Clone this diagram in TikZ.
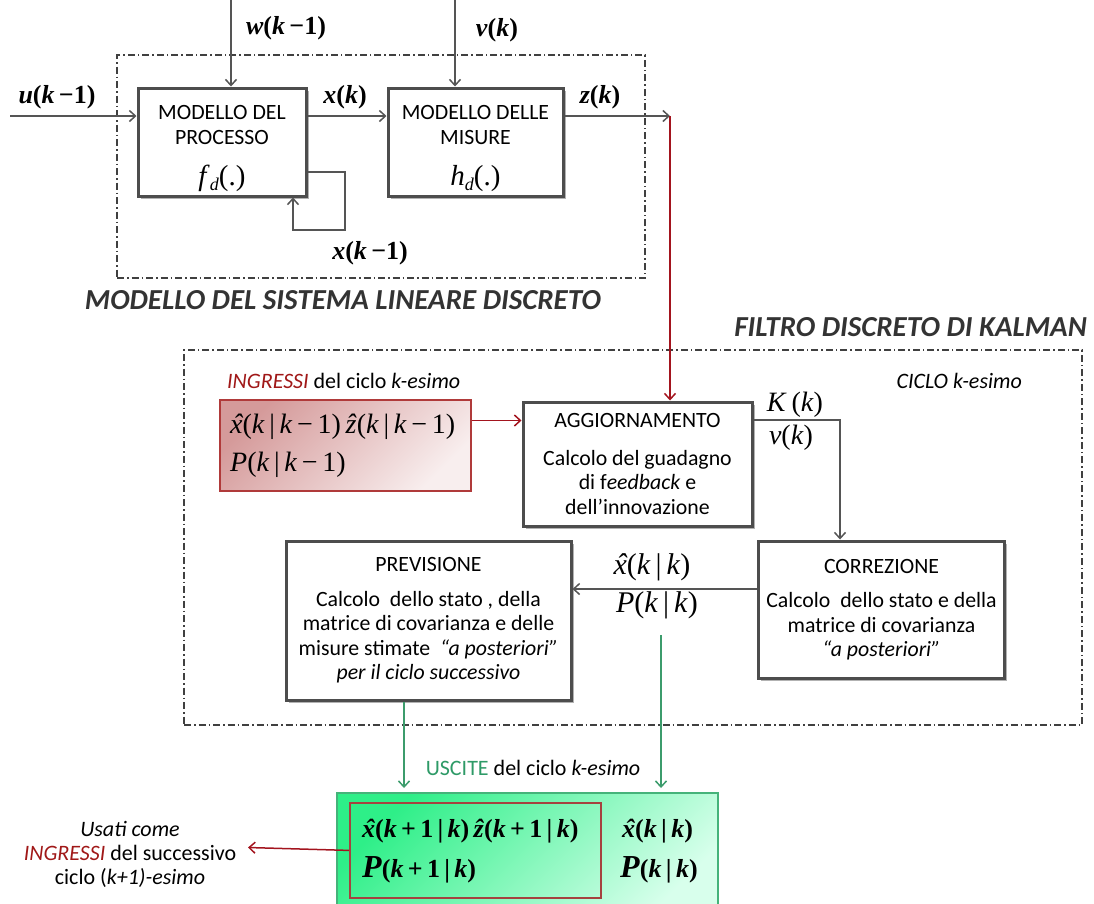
\documentclass[tikz,border=0pt]{standalone}
\usepackage{fontspec}
\setmainfont{Carlito}
\newfontfamily\tms{Liberation Serif}
\usetikzlibrary{arrows.meta,shadows,calc}
\definecolor{boxgray}{HTML}{4D4D4D}
\definecolor{lgray}{HTML}{555555}
\definecolor{dashgray}{HTML}{404040}
\definecolor{titlegray}{HTML}{333333}
\definecolor{dred}{HTML}{A3141E}
\definecolor{tred}{HTML}{A01818}
\definecolor{rborder}{HTML}{B03A3A}
\definecolor{rdark}{HTML}{D59A9A}
\definecolor{rlight}{HTML}{F8EEEE}
\definecolor{garrow}{HTML}{3C9C6C}
\definecolor{gtext}{HTML}{2E9A67}
\definecolor{gborder}{HTML}{45B37A}
\definecolor{gdark}{HTML}{2EEF88}
\definecolor{glight}{HTML}{D8FFEC}
\definecolor{iborder}{HTML}{A5423F}
\newcommand\boxfont{\fontsize{21.8}{24.5}\selectfont}
\newcommand\V[1]{\textit{#1}}
\newcommand\hatit[1]{{\ooalign{\V{#1}\cr\hidewidth\kern0.12em\V{\char"02C6}\hidewidth\cr}}}
\newcommand\xh{\hatit{x}}
\newcommand\zh{\V{ẑ}}
\newcommand\lab{\fontsize{26}{28}\selectfont\tms\bfseries}
\newcommand\mreg{\fontsize{28}{30}\selectfont\tms}
\newcommand\mmid{\fontsize{30}{32}\selectfont\tms}
\newcommand\mbld{\fontsize{26}{30}\selectfont\tms\bfseries}
\newcommand\sub[1]{{\tms\fontsize{29}{29}\selectfont\V{#1}\raisebox{-5pt}{\fontsize{18}{18}\selectfont\V{d}}(.)}}
\begin{document}
\begin{tikzpicture}[x=1pt,y=-1pt,
  blk/.style={draw=boxgray, line width=3pt, fill=white, inner sep=0pt, align=center, font=\boxfont,
    drop shadow={shadow xshift=2.5pt, shadow yshift=-2.5pt, fill=black, opacity=0.3}},
  btxt/.style={inner sep=0pt, align=center, font=\boxfont},
  arr/.style={draw=lgray, line width=1.5pt, -{Straight Barb[length=6pt,width=11pt]}},
  rarr/.style={draw=dred, line width=1.5pt, -{Straight Barb[length=6pt,width=11pt]}},
  garr/.style={draw=garrow, line width=1.5pt, -{Straight Barb[length=6pt,width=11pt]}},
  dd/.style={draw=dashgray, line width=1.3pt, dash pattern=on 7pt off 3pt on 1.5pt off 3pt},
  ttl/.style={font=\fontsize{29}{31}\selectfont\bfseries\itshape, text=titlegray, inner sep=0pt},
  note/.style={font=\fontsize{22}{24}\selectfont, inner sep=0pt, align=center}
]
\useasboundingbox (0,0) rectangle (1094,903);

% ---------- system model ----------
\node[dd, draw, minimum width=528pt, minimum height=223pt, inner sep=0pt] (sysbox) at (381,166.5) {};
\node[blk, minimum width=168pt, minimum height=108pt] (proc) at (222,142) {};
\node[btxt] (proctxt) at ([yshift=-7pt]proc.center) {MODELLO DEL\\PROCESSO\\[17pt]\sub{f}};
\node[blk, minimum width=175pt, minimum height=108pt] (meas) at (475.5,142) {};
\node[btxt] (meastxt) at ([yshift=-7pt]meas.center) {MODELLO DELLE\\MISURE\\[17pt]\sub{h}};

\coordinate (wtop) at (231,0);
\coordinate (vtop) at (455,0);
\coordinate (uin) at (10,116);
\coordinate (zc) at (670,116);
\coordinate (fbR) at (345,230);

\draw[arr] (wtop) -- (wtop |- proc.north);
\draw[arr] (vtop) -- (vtop |- meas.north);
\draw[arr] (uin) -- (uin -| proc.west);
\draw[arr] (proc.east |- uin) -- (meas.west |- uin);
\draw[arr] (meas.east |- uin) -- (zc);
\draw[arr] ([yshift=-30pt]proc.east) -| (fbR) -| ([xshift=71pt]proc.south);

\node[font=\lab] (lw) at (286,28) {\V{w}(\V{k}\,−1)};
\node[font=\lab] (lv) at (497,30) {\V{v}(\V{k})};
\node[font=\lab] (lu) at (57,97) {\V{u}(\V{k}\,−1)};
\node[font=\lab] (lx) at (345,97) {\V{x}(\V{k})};
\node[font=\lab] (lz) at (600,97) {\V{z}(\V{k})};
\node[font=\lab] (lx1) at (370,253) {\V{x}(\V{k}\,−1)};

\node[ttl] (t1) at (343,300) {MODELLO DEL SISTEMA LINEARE DISCRETO};
\node[ttl, anchor=east] (t2) at (1087,327) {FILTRO DISCRETO DI KALMAN};

% ---------- filter ----------
\node[dd, draw, minimum width=898pt, minimum height=375pt, inner sep=0pt] (filtbox) at (633,537.5) {};

\node[note, anchor=west] (ingr) at (227,381) {\textit{\textcolor{tred}{INGRESSI}} del ciclo \textit{k-esimo}};
\node[note, anchor=east] (ciclo) at (1022,381) {\textit{CICLO k-esimo}};

\node[draw=rborder, line width=1.5pt, top color=rdark, bottom color=rlight, shading angle=45,
      minimum width=251pt, minimum height=91pt, inner sep=0pt] (inbox) at (345.5,445.5) {};
\node[font=\mreg, anchor=west, inner sep=0pt] (in1) at (230,427) {\xh(\V{k}\,|\,\V{k}\,−\,1)\,\zh(\V{k}\,|\,\V{k}\,−\,1)};
\node[font=\mreg, anchor=west, inner sep=0pt] (in2) at (230,465) {\V{P}(\V{k}\,|\,\V{k}\,−\,1)};

\node[blk, minimum width=229pt, minimum height=124pt] (agg) at (637.5,464)
  {AGGIORNAMENTO\\[13pt]Calcolo del guadagno\\di f\textit{eedback} e\\dell’innovazione};
\node[blk, minimum width=246pt, minimum height=137pt] (corr) at (881.5,609.5)
  {CORREZIONE\\[10pt]Calcolo\ \ dello stato e della\\matrice di covarianza\\\textit{“a posteriori”}};
\node[blk, minimum width=285pt, minimum height=159pt] (prev) at (428.5,620.5)
  {PREVISIONE\\[10pt]Calcolo\ \ dello stato , della\\matrice di covarianza e delle\\misure stimate\ \ \textit{“a posteriori”}\\\textit{per il ciclo successivo}};

\coordinate (ra) at ([yshift=25pt]inbox.east);
\coordinate (ka) at ([yshift=44pt]agg.east);
\coordinate (ca) at ([yshift=20.5pt]corr.west);
\coordinate (cn) at ([xshift=-41.5pt]corr.north);
\draw[rarr] (zc) -- (zc |- agg.north);
\draw[rarr] (ra) -- (ra -| agg.west);
\draw[arr] (ka) -| (cn);
\draw[arr] (ca) -- (ca -| prev.east);

\node[font=\mreg] (lK) at (795,405) {\V{K}\,(\V{k})};
\node[font=\mreg] (lnu) at (791,438) {\V{ν}(\V{k})};
\node[font=\mmid] (lxk) at (652,567) {\xh(\V{k}\,|\,\V{k})};
\node[font=\mmid] (lPk) at (657,605) {\V{P}(\V{k}\,|\,\V{k})};

% ---------- outputs ----------
\node[draw=gborder, line width=1.5pt, top color=gdark, bottom color=glight, shading angle=45,
      minimum width=381pt, minimum height=130pt, inner sep=0pt, anchor=north west] (outbox) at (336,792) {};
\node[draw=iborder, line width=1.8pt, minimum width=251pt, minimum height=95pt, inner sep=0pt, anchor=north west] (inner) at (349,802) {};

\coordinate (g1) at ([xshift=-24.5pt]prev.south);
\coordinate (g2) at (661,635);
\draw[garr, shorten >=4pt] (g1) -- (g1 |- outbox.north);
\draw[garr, shorten >=4pt] (g2) -- (g2 |- outbox.north);
\node[note] (usc) at (533,768) {\textcolor{gtext}{USCITE} del ciclo \textit{k-esimo}};

\node[font=\mbld, anchor=west, inner sep=0pt] (o1) at (362,831) {\xh(\V{k}\,+\,1\,|\,\V{k})\,\zh(\V{k}\,+\,1\,|\,\V{k})};
\node[font=\mbld, anchor=west, inner sep=0pt] (o2) at (362,870) {{\fontsize{32}{32}\selectfont\V{P}}(\V{k}\,+\,1\,|\,\V{k})};
\node[font=\mbld, anchor=west, inner sep=0pt] (o3) at (622,831) {\xh(\V{k}\,|\,\V{k})};
\node[font=\mbld, anchor=west, inner sep=0pt] (o4) at (620,870) {{\fontsize{32}{32}\selectfont\V{P}}(\V{k}\,|\,\V{k})};

\coordinate (rout) at (248,847.5);
\draw[rarr] (inner.west) -- (rout);
\node[note, anchor=center] (usati) at (130,854) {\textit{Usati come}\\\textit{\textcolor{tred}{INGRESSI}} del successivo\\ciclo (\textit{k+1)-esimo}};
\end{tikzpicture}
\end{document}
